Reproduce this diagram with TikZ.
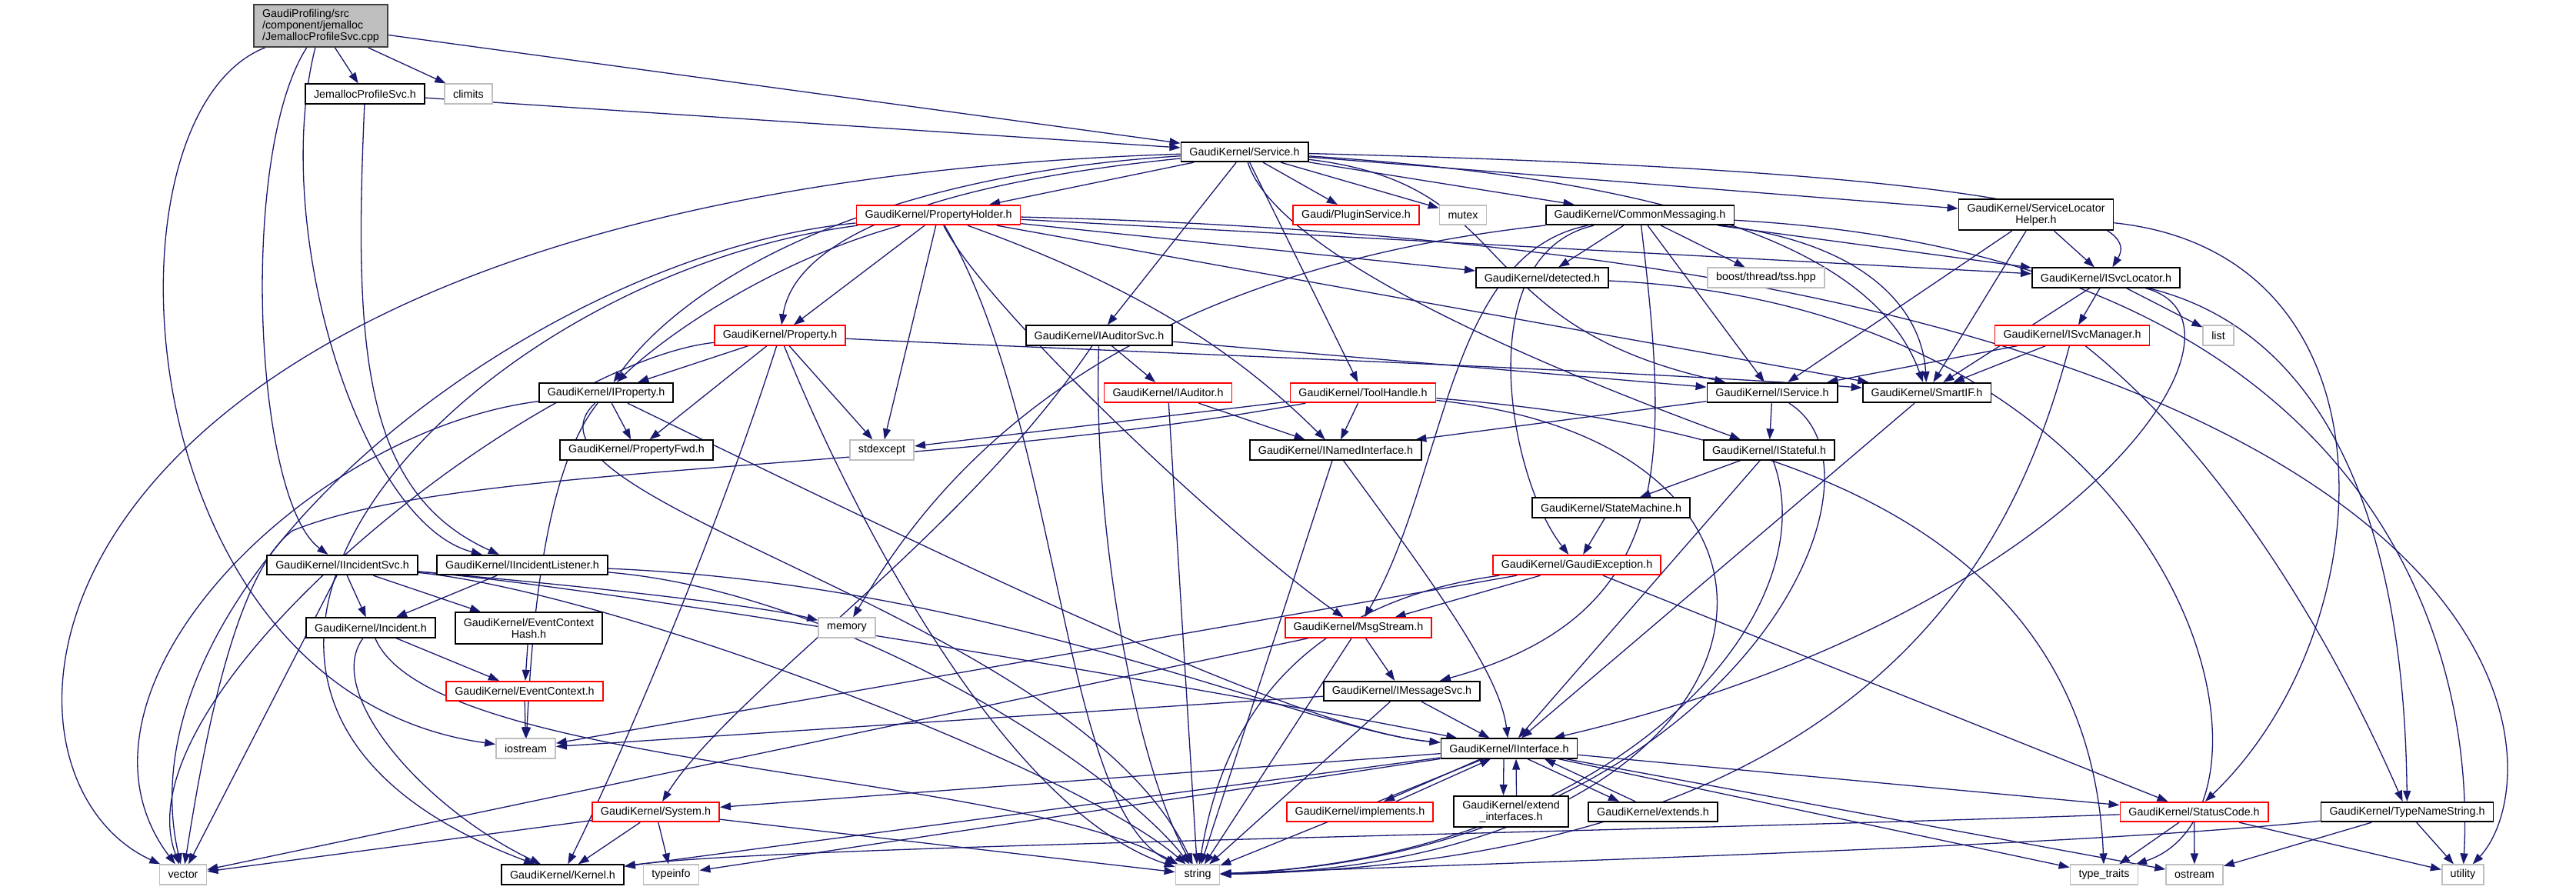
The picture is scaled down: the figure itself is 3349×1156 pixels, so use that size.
\documentclass[tikz,border=0pt]{standalone}
\usepackage{fontspec}
\usepackage{tikz}
\usetikzlibrary{arrows.meta}
\usetikzlibrary{backgrounds}
\newfontfamily\libsans{Liberation Sans}
\newcommand{\gvfont}{\libsans\fontsize{4.07pt}{4.27pt}\selectfont}
\definecolor{midnight}{HTML}{191970}
\definecolor{sysgray}{HTML}{BFBFBF}
\definecolor{rootedge}{HTML}{404040}
\definecolor{incred}{HTML}{FF0000}
\tikzstyle{hdr}=[rectangle, draw=black, fill=white, line width=0.5pt, font=\gvfont,
    inner xsep=0.11cm, inner ysep=0.04cm, minimum height=0.255cm]
\tikzstyle{hdr_red}=[hdr, draw=incred]
\tikzstyle{hdr_sys}=[hdr, draw=sysgray]
\tikzstyle{hdr_two}=[hdr, align=center, minimum height=0.405cm]
\tikzstyle{hdr_root}=[hdr, fill=sysgray, draw=rootedge, align=left, minimum height=0.55cm]
\tikzstyle{dep}=[draw=midnight, line width=0.37pt, -{Triangle[length=0.14cm,width=0.1cm]}]

\begin{document}
\begin{tikzpicture}[x=0.01cm, y=-0.01cm]
          \useasboundingbox (0,0) rectangle (3349,1156);
          \node[hdr_root] (root) at (417,33.5){GaudiProfiling/src\\/component/jemalloc\\/JemallocProfileSvc.cpp};
          \node[hdr] (jps) at (474.5,122){JemallocProfileSvc.h};
          \node[hdr_sys] (climits) at (609,122){climits};
          \node[hdr] (service) at (1618,197.5){GaudiKernel/Service.h};
          \node[hdr_red] (propholder) at (1220,279.5){GaudiKernel/PropertyHolder.h};
          \node[hdr_red] (plugin) at (1763,279.5){Gaudi/PluginService.h};
          \node[hdr_sys] (mutex) at (1902,279.5){mutex};
          \node[hdr] (commsg) at (2132,279.5){GaudiKernel/CommonMessaging.h};
          \node[hdr_two] (slhelper) at (2647,279){GaudiKernel/ServiceLocator\\Helper.h};
          \node[hdr] (detected) at (2005,361){GaudiKernel/detected.h};
          \node[hdr_sys] (tss) at (2296,361){boost/thread/tss.hpp};
          \node[hdr] (svcloc) at (2738,361){GaudiKernel/ISvcLocator.h};
          \node[hdr_red] (property) at (1014,436){GaudiKernel/Property.h};
          \node[hdr] (auditorsvc) at (1429,436){GaudiKernel/IAuditorSvc.h};
          \node[hdr_red] (svcmgr) at (2694,436){GaudiKernel/ISvcManager.h};
          \node[hdr_sys] (list) at (2884,436){list};
          \node[hdr] (iproperty) at (788,510.5){GaudiKernel/IProperty.h};
          \node[hdr_red] (iauditor) at (1518.5,510.5){GaudiKernel/IAuditor.h};
          \node[hdr_red] (toolhandle) at (1772,510.5){GaudiKernel/ToolHandle.h};
          \node[hdr] (iservice) at (2304,510.5){GaudiKernel/IService.h};
          \node[hdr] (smartif) at (2505,510.5){GaudiKernel/SmartIF.h};
          \node[hdr] (propfwd) at (827.5,585){GaudiKernel/PropertyFwd.h};
          \node[hdr_sys] (stdexcept) at (1146.5,585){stdexcept};
          \node[hdr] (namedif) at (1736.5,585){GaudiKernel/INamedInterface.h};
          \node[hdr] (istateful) at (2300,585){GaudiKernel/IStateful.h};
          \node[hdr] (statemach) at (2094.5,660){GaudiKernel/StateMachine.h};
          \node[hdr] (iincsvc) at (445,734.5){GaudiKernel/IIncidentSvc.h};
          \node[hdr] (iinclist) at (679,734.5){GaudiKernel/IIncidentListener.h};
          \node[hdr_red] (gexc) at (2050,734.5){GaudiKernel/GaudiException.h};
          \node[hdr] (incident) at (482,816){GaudiKernel/Incident.h};
          \node[hdr_two] (evhash) at (687.5,816.5){GaudiKernel/EventContext\\Hash.h};
          \node[hdr_sys] (memory) at (1101,816){memory};
          \node[hdr_red] (msgstream) at (1766,816){GaudiKernel/MsgStream.h};
          \node[hdr_red] (evctx) at (682,898.5){GaudiKernel/EventContext.h};
          \node[hdr] (imsgsvc) at (1822.5,898.5){GaudiKernel/IMessageSvc.h};
          \node[hdr_sys] (iostream) at (683.5,973){iostream};
          \node[hdr] (iinterface) at (1962,973){GaudiKernel/IInterface.h};
          \node[hdr_red] (system) at (852.5,1055.5){GaudiKernel/System.h};
          \node[hdr_red] (implements) at (1768,1055.5){GaudiKernel/implements.h};
          \node[hdr_two] (extendif) at (1964.5,1055){GaudiKernel/extend\\\_interfaces.h};
          \node[hdr] (extends) at (2149,1055.5){GaudiKernel/extends.h};
          \node[hdr_red] (statuscode) at (2852.5,1055.5){GaudiKernel/StatusCode.h};
          \node[hdr] (typename) at (3129.5,1055.5){GaudiKernel/TypeNameString.h};
          \node[hdr_sys] (vector) at (238,1137){vector};
          \node[hdr] (kernel) at (731.5,1137){GaudiKernel/Kernel.h};
          \node[hdr_sys] (typeinfo) at (872.5,1137){typeinfo};
          \node[hdr_sys] (string) at (1557,1137){string};
          \node[hdr_sys] (typetraits) at (2735.5,1137){type\_traits};
          \node[hdr_sys] (ostream) at (2853,1137){ostream};
          \node[hdr_sys] (utility) at (3202,1137){utility};
          \begin{pgfonlayer}{background}
          \draw[dep] (root) -- (jps);
          \draw[dep] (root) -- (climits);
          \draw[dep] (root) -- (service);
          \draw[dep] (root) .. controls (310,200) and (330,650) .. (iincsvc);
          \draw[dep] (root) .. controls (350,300) and (470,680) .. (iinclist);
          \draw[dep] (root) .. controls (120,150) and (160,900) .. (iostream);
          \draw[dep] (jps) -- (service);
          \draw[dep] (jps) .. controls (460,450) and (470,640) .. (iinclist);
          \draw[dep] (service) -- (propholder);
          \draw[dep] (service) -- (plugin);
          \draw[dep] (service) -- (mutex);
          \draw[dep] (service) -- (commsg);
          \draw[dep] (service) -- (slhelper);
          \draw[dep] (service) .. controls (2740,225) and (2775,300) .. (svcloc);
          \draw[dep] (service) .. controls (1980,240) and (1900,420) .. (iservice);
          \draw[dep] (service) .. controls (2200,235) and (2440,330) .. (smartif);
          \draw[dep] (service) .. controls (1100,230) and (880,380) .. (iproperty);
          \draw[dep] (service) .. controls (1150,245) and (1030,330) .. (property);
          \draw[dep] (service) .. controls (0,250) and (-60,1000) .. (vector);
          \draw[dep] (service) -- (auditorsvc);
          \draw[dep] (service) -- (toolhandle);
          \draw[dep] (service) .. controls (1650,300) and (1850,420) .. (istateful);
          \draw[dep] (propholder) .. controls (700,330) and (150,750) .. (vector);
          \draw[dep] (propholder) .. controls (600,360) and (100,900) .. (kernel);
          \draw[dep] (propholder) .. controls (1000,340) and (860,440) .. (iproperty);
          \draw[dep] (propholder) -- (property);
          \draw[dep] (propholder) -- (stdexcept);
          \draw[dep] (propholder) .. controls (1379,550) and (1379,1050) .. (string);
          \draw[dep] (propholder) .. controls (1280,400) and (1600,700) .. (msgstream);
          \draw[dep] (propholder) .. controls (1500,380) and (1620,470) .. (namedif);
          \draw[dep] (propholder) -- (svcloc);
          \draw[dep] (propholder) -- (smartif);
          \draw[dep] (propholder) -- (detected);
          \draw[dep] (propholder) .. controls (3330,330) and (3330,1000) .. (utility);
          \draw[dep] (commsg) -- (detected);
          \draw[dep] (commsg) -- (tss);
          \draw[dep] (commsg) -- (svcloc);
          \draw[dep] (commsg) .. controls (2450,320) and (2500,420) .. (smartif);
          \draw[dep] (commsg) -- (iservice);
          \draw[dep] (commsg) .. controls (1880,330) and (1880,620) .. (msgstream);
          \draw[dep] (commsg) .. controls (1910,330) and (1960,620) .. (gexc);
          \draw[dep] (commsg) .. controls (2170,600) and (2180,800) .. (imsgsvc);
          \draw[dep] (commsg) .. controls (1400,360) and (1200,650) .. (memory);
          \draw[dep] (commsg) .. controls (3050,330) and (3220,800) .. (utility);
          \draw[dep] (slhelper) -- (svcloc);
          \draw[dep] (slhelper) -- (iservice);
          \draw[dep] (slhelper) -- (smartif);
          \draw[dep] (slhelper) .. controls (3130,330) and (3100,820) .. (statuscode);
          \draw[dep] (svcloc) -- (list);
          \draw[dep] (svcloc) -- (svcmgr);
          \draw[dep] (svcloc) -- (smartif);
          \draw[dep] (svcloc) .. controls (2960,420) and (2700,800) .. (iinterface);
          \draw[dep] (svcloc) .. controls (3100,450) and (3127,850) .. (typename);
          \draw[dep] (svcmgr) -- (iservice);
          \draw[dep] (svcmgr) -- (smartif);
          \draw[dep] (svcmgr) .. controls (2624,700) and (2450,1120) .. (string);
          \draw[dep] (svcmgr) .. controls (2900,600) and (3040,850) .. (typename);
          \draw[dep] (property) -- (iproperty);
          \draw[dep] (property) -- (propfwd);
          \draw[dep] (property) -- (stdexcept);
          \draw[dep] (property) .. controls (1400,455) and (2100,480) .. (smartif);
          \draw[dep] (property) .. controls (700,470) and (150,900) .. (vector);
          \draw[dep] (property) .. controls (1100,650) and (1300,1050) .. (string);
          \draw[dep] (property) .. controls (930,700) and (800,1000) .. (kernel);
          \draw[dep] (iproperty) -- (propfwd);
          \draw[dep] (iproperty) .. controls (1300,760) and (1700,950) .. (iinterface);
          \draw[dep] (iproperty) .. controls (400,560) and (60,900) .. (vector);
          \draw[dep] (iproperty) .. controls (640,650) and (1400,800) .. (string);
          \draw[dep] (iproperty) .. controls (700,620) and (690,860) .. (iostream);
          \draw[dep] (auditorsvc) -- (iauditor);
          \draw[dep] (auditorsvc) -- (iservice);
          \draw[dep] (auditorsvc) .. controls (1250,700) and (950,900) .. (system);
          \draw[dep] (auditorsvc) .. controls (1420,700) and (1480,1000) .. (string);
          \draw[dep] (iauditor) -- (namedif);
          \draw[dep] (iauditor) -- (string);
          \draw[dep] (toolhandle) -- (namedif);
          \draw[dep] (toolhandle) -- (stdexcept);
          \draw[dep] (toolhandle) .. controls (1200,615) and (600,600) .. (380,690) .. controls (300,750) and (260,1000) .. (vector);
          \draw[dep] (toolhandle) .. controls (2420,560) and (2720,750) .. (typetraits);
          \draw[dep] (toolhandle) .. controls (2440,580) and (2330,1125) .. (string);
          \draw[dep] (namedif) .. controls (1880,780) and (1950,880) .. (iinterface);
          \draw[dep] (namedif) -- (string);
          \draw[dep] (iservice) -- (namedif);
          \draw[dep] (iservice) -- (istateful);
          \draw[dep] (iservice) .. controls (2480,620) and (2250,1110) .. (string);
          \draw[dep] (istateful) -- (statemach);
          \draw[dep] (istateful) -- (iinterface);
          \draw[dep] (istateful) .. controls (2380,800) and (2100,1115) .. (string);
          \draw[dep] (smartif) -- (iinterface);
          \draw[dep] (statemach) -- (gexc);
          \draw[dep] (gexc) -- (msgstream);
          \draw[dep] (gexc) -- (statuscode);
          \draw[dep] (gexc) -- (iostream);
          \draw[dep] (gexc) .. controls (1640,790) and (1580,1000) .. (string);
          \draw[dep] (msgstream) -- (imsgsvc);
          \draw[dep] (msgstream) -- (string);
          \draw[dep] (msgstream) -- (vector);
          \draw[dep] (imsgsvc) -- (iinterface);
          \draw[dep] (imsgsvc) -- (string);
          \draw[dep] (imsgsvc) -- (iostream);
          \draw[dep] (iincsvc) -- (incident);
          \draw[dep] (iincsvc) -- (evhash);
          \draw[dep] (iincsvc) -- (vector);
          \draw[dep] (iincsvc) .. controls (800,765) and (1000,790) .. (memory);
          \draw[dep] (iincsvc) .. controls (800,765) and (1600,900) .. (iinterface);
          \draw[dep] (iincsvc) .. controls (800,770) and (1400,1000) .. (string);
          \draw[dep] (iinclist) -- (incident);
          \draw[dep] (iinclist) .. controls (1300,760) and (1700,950) .. (iinterface);
          \draw[dep] (iinclist) .. controls (1100,770) and (1450,1000) .. (string);
          \draw[dep] (incident) -- (evctx);
          \draw[dep] (incident) .. controls (420,900) and (550,1050) .. (kernel);
          \draw[dep] (incident) .. controls (560,1000) and (1300,1000) .. (string);
          \draw[dep] (evhash) -- (evctx);
          \draw[dep] (evctx) -- (iostream);
          \draw[dep] ([xshift=-0.37cm]iinterface.south) -- ([xshift=0.31cm]implements.north);
          \draw[dep] ([xshift=0.47cm]implements.north) -- ([xshift=-0.24cm]iinterface.south);
          \draw[dep] ([xshift=-0.07cm]iinterface.south) -- ([xshift=-0.1cm]extendif.north);
          \draw[dep] ([xshift=0.07cm]extendif.north) -- ([xshift=0.09cm]iinterface.south);
          \draw[dep] ([xshift=0.24cm]iinterface.south) -- ([xshift=-0.44cm]extends.north);
          \draw[dep] ([xshift=-0.23cm]extends.north) -- ([xshift=0.46cm]iinterface.south);
          \draw[dep] (iinterface) -- (statuscode);
          \draw[dep] (iinterface) -- (system);
          \draw[dep] (iinterface) -- (kernel);
          \draw[dep] (iinterface) -- (typeinfo);
          \draw[dep] (iinterface) -- (string);
          \draw[dep] (iinterface) -- (ostream);
          \draw[dep] (iinterface) -- (typetraits);
          \draw[dep] (system) -- (vector);
          \draw[dep] (system) -- (kernel);
          \draw[dep] (system) -- (typeinfo);
          \draw[dep] (system) -- (string);
          \draw[dep] (statuscode) -- (typetraits);
          \draw[dep] (statuscode) -- (ostream);
          \draw[dep] (statuscode) -- (utility);
          \draw[dep] (statuscode) .. controls (2000,1085) and (1000,1100) .. (kernel);
          \draw[dep] (typename) .. controls (2700,1100) and (2000,1120) .. (string);
          \draw[dep] (typename) -- (ostream);
          \draw[dep] (typename) -- (utility);
          \draw[dep] (detected) .. controls (2850,400) and (3000,1050) .. (typetraits);
          \end{pgfonlayer}
        \end{tikzpicture}
\end{document}
